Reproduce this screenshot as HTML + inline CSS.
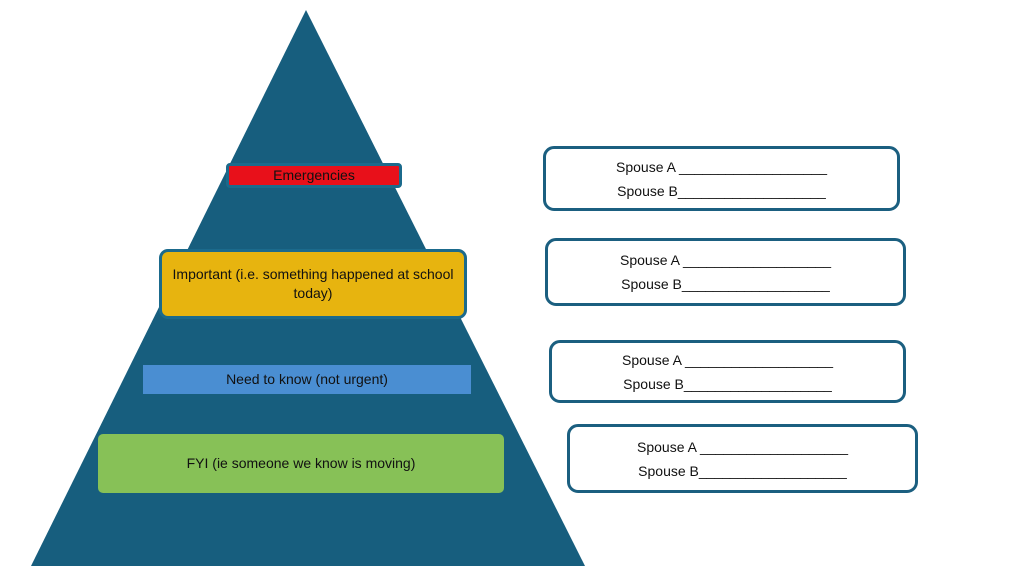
<!DOCTYPE html>
<html><head><style>
body{margin:0;width:1024px;height:573px;background:#fff;position:relative;overflow:hidden;font-family:"Liberation Sans",sans-serif;color:#111}
.b{position:absolute;box-sizing:border-box;display:flex;align-items:center;justify-content:center;text-align:center;font-size:14px;line-height:19px}
.r{border:3px solid #1b5f80;border-radius:11px;background:#fff;flex-direction:column;line-height:24px}
</style></head><body>
<svg width="1024" height="573" style="position:absolute;left:0;top:0"><polygon points="306,10 31,566 585,566" fill="#175e7e"/></svg>
<div class="b" style="left:226px;top:163px;width:176px;height:25px;border:3px solid #1b6a8c;border-radius:4px;background:#e8101a">Emergencies</div>
<div class="b" style="left:159px;top:249px;width:308px;height:70px;border:3px solid #1b6a8c;border-radius:9px;background:#e7b40f;padding:0 10px">Important (i.e. something happened at school today)</div>
<div class="b" style="left:143px;top:365px;width:328px;height:29px;background:#4a8ed2">Need to know (not urgent)</div>
<div class="b" style="left:98px;top:434px;width:406px;height:59px;background:#87c157;border-radius:5px">FYI (ie someone we know is moving)</div>
<div class="b r" style="left:543px;top:146px;width:357px;height:65px"><div>Spouse A ___________________</div><div>Spouse B___________________</div></div>
<div class="b r" style="left:545px;top:238px;width:361px;height:68px"><div>Spouse A ___________________</div><div>Spouse B___________________</div></div>
<div class="b r" style="left:549px;top:340px;width:357px;height:63px"><div>Spouse A ___________________</div><div>Spouse B___________________</div></div>
<div class="b r" style="left:567px;top:424px;width:351px;height:69px"><div>Spouse A ___________________</div><div>Spouse B___________________</div></div>
</body></html>
